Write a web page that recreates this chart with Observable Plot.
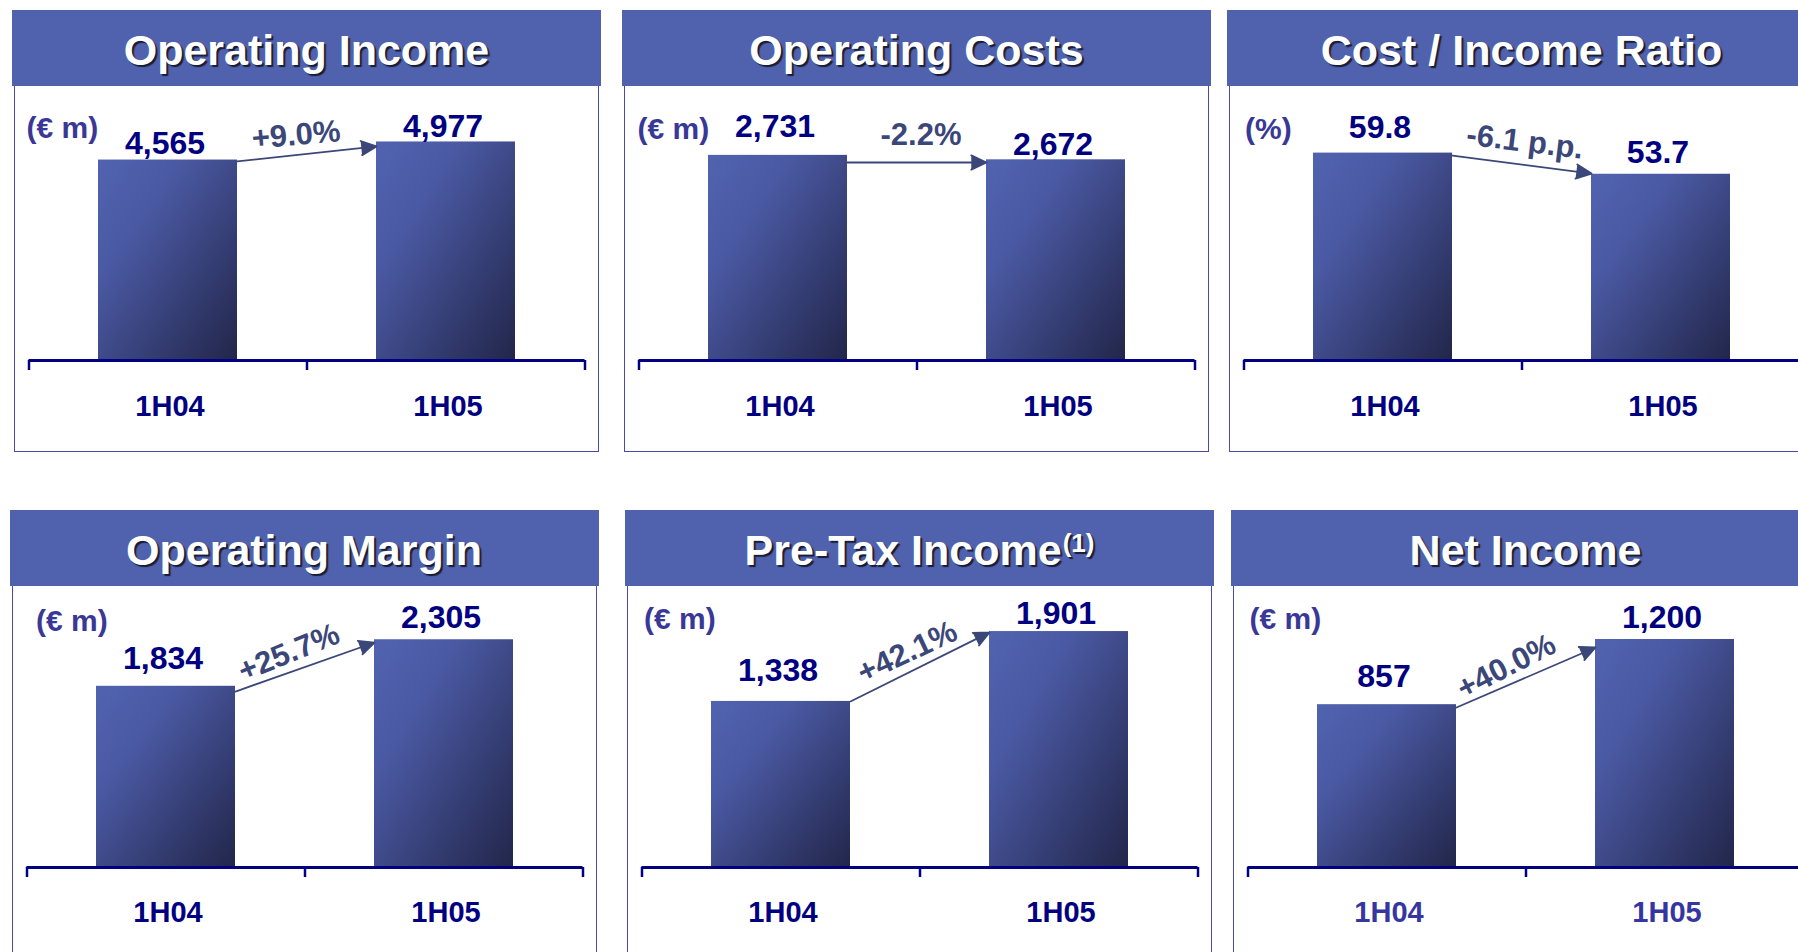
<!DOCTYPE html>
<html><head><meta charset="utf-8">
<script src="https://cdn.jsdelivr.net/npm/d3@7"></script>
<script src="https://cdn.jsdelivr.net/npm/@observablehq/plot@0.6"></script>
<style>
html,body{margin:0;padding:0;background:#fff;overflow:hidden;width:1798px;height:952px;}
body{position:relative;font-family:"Liberation Sans",Arial,sans-serif;}
.hdr{position:absolute;height:76px;background:#5062ae;color:#fff;font-weight:bold;font-size:43px;text-align:center;line-height:76px;text-shadow:2px 2px 1px #181c34;white-space:nowrap;box-sizing:border-box;padding-top:2px;}
.hdr .sup{font-size:26px;position:relative;top:-13px;margin-left:1px;}
.box{position:absolute;border:1.5px solid #4a4aa8;box-sizing:border-box;}
.chart{position:absolute;}
</style></head><body>
<script>
// ---- data ----
const titles = ["Operating Income", "Operating Costs", "Cost / Income Ratio", "Operating Margin", "Pre-Tax Income", "Net Income"];
const titleNotes = ["", "", "", "", "(1)", ""];
const units = ["(€ m)", "(€ m)", "(%)", "(€ m)", "(€ m)", "(€ m)"];
const periods = ["1H04", "1H05"];
const operatingIncome = [4565, 4977];
const operatingCosts = [2731, 2672];
const costIncomeRatio = [59.8, 53.7];
const operatingMargin = [1834, 2305];
const preTaxIncome = [1338, 1901];
const netIncome = [857, 1200];
const changeLabels = ["+9.0%", "-2.2%", "-6.1 p.p.", "+25.7%", "+42.1%", "+40.0%"];
const valueFormats = [",", ",", ".1f", ",", ",", ","];
// arrow start (at right edge of 1H04 bar) / end (at left edge of 1H05 bar) levels, in each chart's units
const arrowFrom = [4533, 2636, 59.1, 1781, 1338, 842];
const arrowTo = [4875, 2636, 53.9, 2277, 1894, 1158];
// y-scale maximum of each chart
const yMax = [6240, 3648, 79.0, 2844, 2264, 1479];

const series = [operatingIncome, operatingCosts, costIncomeRatio, operatingMargin, preTaxIncome, netIncome];

// ---- layout / style ----
const FONT = '"Liberation Sans", Arial, sans-serif';
const NAVY = "#000080";
const W = 589, H = 366, mL = 16.5, mR = 16.5;
const layout = [
  {left: 12,   top: 10,  plotH: 274, unit: [14, 51],   gaps: [6, 5],   ch: {off: 10, along: -9, angle: -5}, catDy: 55, catFill: NAVY},
  {left: 622,  top: 10,  plotH: 274, unit: [15, 52],   gaps: [18, 5],  ch: {off: 18, along: 4, angle: 0},   catDy: 55, catFill: NAVY},
  {left: 1227, top: 10,  plotH: 274, unit: [17.5, 52], gaps: [15, 11], ch: {off: 13, along: 0, angle: 7},   catDy: 55, catFill: NAVY},
  {left: 9.5,  top: 510, plotH: 281, unit: [25.5, 44], gaps: [17, 12], ch: {off: 9, along: -10, angle: -22}, catDy: 54, catFill: NAVY},
  {left: 625,  top: 510, plotH: 281, unit: [18.6, 42], gaps: [20, 8],  ch: {off: 9, along: -5, angle: -25},  catDy: 54, catFill: NAVY},
  {left: 1231, top: 510, plotH: 281, unit: [18, 42],   gaps: [18, 12], ch: {off: 8, along: -13, angle: -27}, catDy: 54, catFill: "#3636a0"}
];

function gradientDefs(id) {
  return () => {
    const defs = d3.create("svg:defs");
    const g = defs.append("linearGradient").attr("id", id)
      .attr("x1", 0).attr("y1", 0).attr("x2", 1).attr("y2", 1);
    g.append("stop").attr("offset", "0%").attr("stop-color", "#5163b0");
    g.append("stop").attr("offset", "30%").attr("stop-color", "#4a59a3");
    g.append("stop").attr("offset", "100%").attr("stop-color", "#22264a");
    return defs.node();
  };
}

series.forEach((vals, i) => {
  const L = layout[i];
  const fmt = d3.format(valueFormats[i]);
  const rows = periods.map((p, j) => ({period: p, value: vals[j], label: fmt(vals[j])}));
  const step = (W - mL - mR) / 2;
  const halfBar = step * 0.25;
  const gapW = step - 2 * halfBar;               // horizontal run between the bar edges
  const k = L.plotH / yMax[i];
  const dyPx = -(arrowTo[i] - arrowFrom[i]) * k; // screen rise between the bar edges
  // extend the edge-to-edge line to the band centres, then inset back to the edges
  const ext = (arrowTo[i] - arrowFrom[i]) * (halfBar / gapW);
  const yStart = arrowFrom[i] - ext, yEnd = arrowTo[i] + ext;
  const fullLen = Math.hypot(step, dyPx * step / gapW);
  const inset = halfBar * fullLen / step;
  const ang = Math.atan2(dyPx, gapW);
  const tdx = step / 2 + L.ch.along * Math.cos(ang) + L.ch.off * Math.sin(ang);
  const tdy = L.ch.along * Math.sin(ang) - L.ch.off * Math.cos(ang);
  const gid = "barGrad" + i;

  // box
  const box = document.createElement("div");
  box.className = "box";
  box.style.left = (L.left + 2) + "px";
  box.style.width = (W - 4) + "px";
  box.style.top = (L.top + 40) + "px";
  box.style.height = (L.top < 100 ? 452 - (L.top + 40) : 500) + "px";
  document.body.appendChild(box);

  const chart = Plot.plot({
    width: W, height: H,
    marginLeft: mL, marginRight: mR, marginTop: 0, marginBottom: H - L.plotH,
    style: {fontFamily: FONT, background: "transparent", overflow: "visible"},
    x: {type: "band", domain: periods, paddingInner: 0.5, paddingOuter: 0.25, axis: null},
    y: {domain: [0, yMax[i]], axis: null},
    marks: [
      gradientDefs(gid),
      Plot.barY(rows, {x: "period", y: "value", fill: `url(#${gid})`}),
      Plot.ruleY([0], {stroke: NAVY, strokeWidth: 3}),
      Plot.ruleX(periods, {x: d => d, y1: () => 0, y2: () => -10 / k, dx: -step / 2, stroke: NAVY, strokeWidth: 2.5}),
      Plot.ruleX([periods[1]], {x: d => d, y1: () => 0, y2: () => -10 / k, dx: step / 2, stroke: NAVY, strokeWidth: 2.5}),
      Plot.arrow([{from: yStart, to: yEnd}], {
        x1: () => periods[0], x2: () => periods[1], y1: "from", y2: "to",
        insetStart: inset, insetEnd: inset,
        stroke: "#3b4778", fill: "#3b4778", strokeWidth: 1.8, headLength: 14, headAngle: 50
      }),
      Plot.text([{mid: (arrowFrom[i] + arrowTo[i]) / 2, t: changeLabels[i]}], {
        x: () => periods[0], y: "mid", text: "t", dx: tdx, dy: tdy, rotate: L.ch.angle,
        textAnchor: "middle", lineAnchor: "bottom", fontSize: 31, fontWeight: "bold", fill: "#3b4778"
      }),
      ...rows.map((r, j) => Plot.text([r], {
        x: "period", y: "value", text: "label", dx: -3, dy: -L.gaps[j],
        textAnchor: "middle", lineAnchor: "bottom", fontSize: 32, fontWeight: "bold", fill: NAVY
      })),
      Plot.text(periods, {
        x: d => d, y: () => 0, text: d => d, dx: 2, dy: L.catDy,
        textAnchor: "middle", lineAnchor: "bottom", fontSize: 29, fontWeight: "bold", fill: L.catFill
      }),
      Plot.text([units[i]], {
        frameAnchor: "top-left", text: d => d, dx: L.unit[0] - mL, dy: L.unit[1],
        textAnchor: "start", lineAnchor: "bottom", fontSize: 30, fontWeight: "bold", fill: "#3a3896"
      })
    ]
  });
  chart.classList.add("chart");
  chart.style.left = L.left + "px";
  chart.style.top = (L.top + 76) + "px";
  chart.style.position = "absolute";
  document.body.appendChild(chart);

  // header
  const hdr = document.createElement("div");
  hdr.className = "hdr";
  hdr.style.left = L.left + "px";
  hdr.style.top = L.top + "px";
  hdr.style.width = W + "px";
  hdr.appendChild(document.createTextNode(titles[i]));
  if (titleNotes[i]) {
    const s = document.createElement("span");
    s.className = "sup";
    s.textContent = titleNotes[i];
    hdr.appendChild(s);
  }
  document.body.appendChild(hdr);
});
</script>
</body></html>
